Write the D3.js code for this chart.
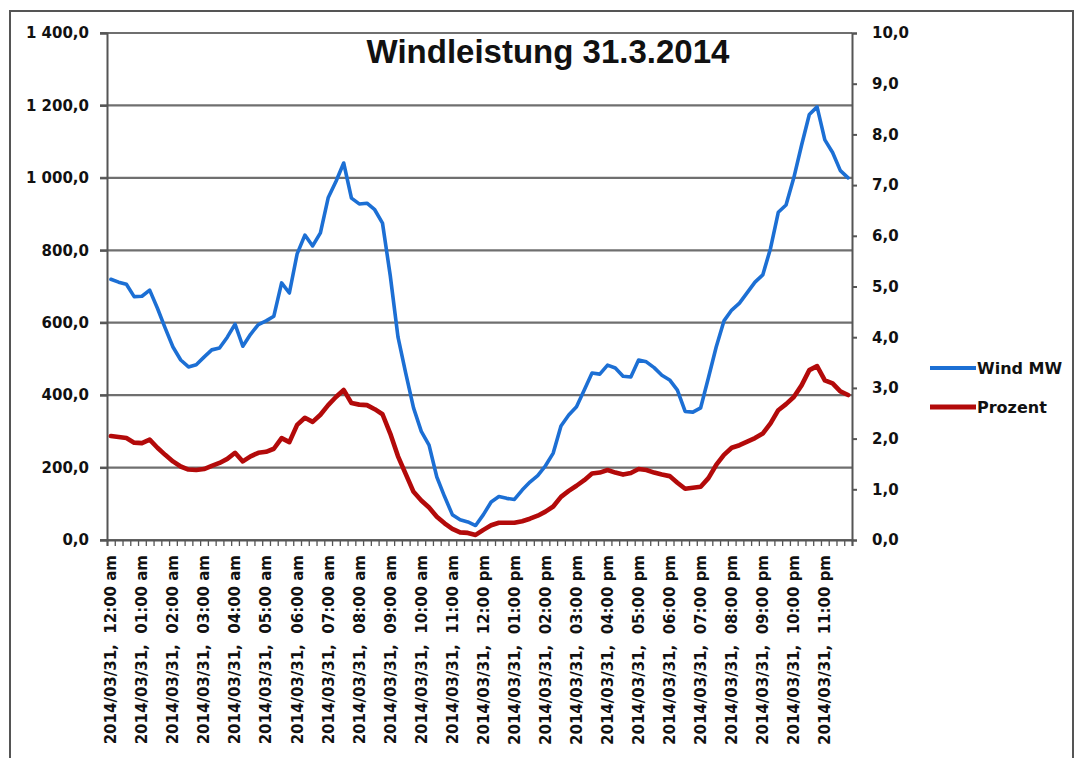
<!DOCTYPE html>
<html>
<head>
<meta charset="utf-8">
<script src="https://cdn.jsdelivr.net/npm/d3@7"></script>
<style>
  html, body { margin: 0; padding: 0; background: #fff; }
  svg { display: block; }
</style>
</head>
<body>
<svg id="chart" width="1079" height="758"></svg>
<script>
// ---- data (15-minute values, 31.3.2014) ----
const hourLabels = [
  "2014/03/31,  12:00 am", "2014/03/31,  01:00 am", "2014/03/31,  02:00 am", "2014/03/31,  03:00 am",
  "2014/03/31,  04:00 am", "2014/03/31,  05:00 am", "2014/03/31,  06:00 am", "2014/03/31,  07:00 am",
  "2014/03/31,  08:00 am", "2014/03/31,  09:00 am", "2014/03/31,  10:00 am", "2014/03/31,  11:00 am",
  "2014/03/31,  12:00 pm", "2014/03/31,  01:00 pm", "2014/03/31,  02:00 pm", "2014/03/31,  03:00 pm",
  "2014/03/31,  04:00 pm", "2014/03/31,  05:00 pm", "2014/03/31,  06:00 pm", "2014/03/31,  07:00 pm",
  "2014/03/31,  08:00 pm", "2014/03/31,  09:00 pm", "2014/03/31,  10:00 pm", "2014/03/31,  11:00 pm"
];
const quarters = ["00", "15", "30", "45"];

const windMW = [
  720, 712, 706, 672, 673, 690, 640, 585, 533, 497, 478, 484, 505, 525, 530, 560,
  596, 535, 568, 595, 605, 618, 710, 682, 790, 842, 812, 848, 945, 990, 1041, 944,
  928, 930, 912, 875, 730, 560, 460, 365, 300, 262, 174, 120, 70, 56, 50, 40,
  70, 105, 120, 115, 112, 138, 160, 178, 205, 240, 315, 345, 368, 414, 461, 458,
  483, 475, 452, 450, 497, 492, 476, 455, 442, 414, 355, 353, 365, 448, 533, 605,
  635, 654, 683, 712, 732, 805, 905, 925, 1000, 1090, 1175, 1196, 1105, 1070, 1020, 1000
];
const prozent = [
  2.05, 2.03, 2.01, 1.92, 1.91, 1.98, 1.82, 1.68, 1.55, 1.45, 1.39, 1.38, 1.40, 1.46, 1.52, 1.60,
  1.72, 1.55, 1.65, 1.72, 1.74, 1.80, 2.01, 1.93, 2.27, 2.41, 2.33, 2.47, 2.66, 2.82, 2.96, 2.70,
  2.67, 2.66, 2.58, 2.48, 2.10, 1.65, 1.30, 0.95, 0.78, 0.64, 0.46, 0.33, 0.22, 0.15, 0.14, 0.10,
  0.20, 0.29, 0.34, 0.34, 0.34, 0.37, 0.42, 0.48, 0.56, 0.66, 0.85, 0.97, 1.07, 1.18, 1.31, 1.33,
  1.38, 1.33, 1.29, 1.32, 1.40, 1.38, 1.33, 1.29, 1.26, 1.13, 1.01, 1.03, 1.05, 1.22, 1.48, 1.68,
  1.82, 1.87, 1.94, 2.01, 2.10, 2.30, 2.56, 2.68, 2.82, 3.05, 3.35, 3.43, 3.15, 3.09, 2.93, 2.86
];
const leftTicks = [0, 200, 400, 600, 800, 1000, 1200, 1400];
const rightTicks = [0, 1, 2, 3, 4, 5, 6, 7, 8, 9, 10];
const seriesNames = ["Wind MW", "Prozent"];
const seriesColors = ["#1c6fd4", "#b30a0a"];
const titleText = "Windleistung 31.3.2014";

// categories: one per quarter hour
const categories = [];
hourLabels.forEach((h, hi) => quarters.forEach(q => categories.push(hi + ":" + q)));

// ---- layout ----
const svg = d3.select("#chart");
const plot = { left: 107, right: 852, top: 33, bottom: 540 };
const fontAxis = "'DejaVu Sans', sans-serif";

const x = d3.scaleBand().domain(categories).range([plot.left, plot.right]).padding(0);
const xb = d3.scaleLinear().domain([0, categories.length]).range([plot.left, plot.right]);
const yL = d3.scaleLinear().domain([0, 1400]).range([plot.bottom, plot.top]);
const yR = d3.scaleLinear().domain([0, 10]).range([plot.bottom, plot.top]);

const loc = d3.formatLocale({ decimal: ",", thousands: " ", grouping: [3], currency: ["", ""] });
const fmtL = loc.format(",.1f");
const fmtR = loc.format(".1f");

// outer frame
svg.append("rect").attr("x", 10).attr("y", 11).attr("width", 1063).attr("height", 770)
  .attr("fill", "none").attr("stroke", "#555").attr("stroke-width", 2);

// gridlines
svg.append("g").selectAll("line").data(leftTicks).join("line")
  .attr("x1", plot.left - 7).attr("x2", plot.right)
  .attr("y1", d => yL(d)).attr("y2", d => yL(d))
  .attr("stroke", "#6f6f6f").attr("stroke-width", 2.2);

// left axis
const gL = svg.append("g").attr("transform", `translate(${plot.left},0)`)
  .call(d3.axisLeft(yL).tickValues(leftTicks).tickSize(7).tickPadding(11).tickFormat(fmtL));
gL.select(".domain").attr("stroke", "#555").attr("stroke-width", 2);
gL.selectAll(".tick line").attr("stroke", "#555").attr("stroke-width", 2);
gL.selectAll("text").attr("font-family", fontAxis).attr("font-weight", "bold")
  .attr("font-size", 15).attr("fill", "#111");

// right axis
const gR = svg.append("g").attr("transform", `translate(${plot.right},0)`)
  .call(d3.axisRight(yR).tickValues(rightTicks).tickSize(5).tickPadding(15).tickFormat(fmtR));
gR.select(".domain").attr("stroke", "#555").attr("stroke-width", 2);
gR.selectAll(".tick line").attr("stroke", "#555").attr("stroke-width", 2);
gR.selectAll("text").attr("font-family", fontAxis).attr("font-weight", "bold")
  .attr("font-size", 15).attr("fill", "#111");

// bottom axis tick marks (between categories)
const gB = svg.append("g").attr("transform", `translate(0,${plot.bottom})`)
  .call(d3.axisBottom(xb).tickValues(d3.range(0, categories.length + 1)).tickSize(6).tickFormat(""));
gB.select(".domain").attr("stroke", "#555").attr("stroke-width", 2);
gB.selectAll(".tick line").attr("stroke", "#555").attr("stroke-width", 1.3);

// bottom axis labels (one per hour)
const labelCats = categories.filter((c, i) => i % 4 === 0);
const gX = svg.append("g").attr("transform", `translate(0,${plot.bottom})`)
  .call(d3.axisBottom(x).tickValues(labelCats).tickSize(0).tickFormat((d, i) => hourLabels[i]));
gX.select(".domain").remove();
gX.selectAll(".tick text")
  .attr("transform", "rotate(-90)")
  .attr("x", -15).attr("y", 0).attr("dy", "0.36em")
  .attr("text-anchor", "end")
  .attr("font-family", fontAxis).attr("font-weight", "bold").attr("font-size", 15)
  .attr("fill", "#111")
  .style("white-space", "pre");

// lines
const lineL = d3.line().x((d, i) => x(categories[i]) + x.bandwidth() / 2).y(d => yL(d));
const lineR = d3.line().x((d, i) => x(categories[i]) + x.bandwidth() / 2).y(d => yR(d));
svg.append("path").datum(windMW).attr("d", lineL)
  .attr("fill", "none").attr("stroke", seriesColors[0]).attr("stroke-width", 3.6)
  .attr("stroke-linejoin", "round").attr("stroke-linecap", "round");
svg.append("path").datum(prozent).attr("d", lineR)
  .attr("fill", "none").attr("stroke", seriesColors[1]).attr("stroke-width", 4.6)
  .attr("stroke-linejoin", "round").attr("stroke-linecap", "round");

// title
svg.append("text").attr("x", 548).attr("y", 63).attr("text-anchor", "middle")
  .attr("font-family", "'Liberation Sans', Arial, sans-serif").attr("font-weight", "bold")
  .attr("font-size", 33).attr("fill", "#111").text(titleText);

// legend
const lg = svg.append("g");
seriesNames.forEach((name, i) => {
  const yy = 368 + i * 39;
  lg.append("line").attr("x1", 930).attr("x2", 976).attr("y1", yy).attr("y2", yy)
    .attr("stroke", seriesColors[i]).attr("stroke-width", i === 0 ? 4 : 5);
  lg.append("text").attr("x", 977).attr("y", yy).attr("dy", "0.36em")
    .attr("font-family", fontAxis).attr("font-weight", "bold").attr("font-size", 16)
    .attr("fill", "#111").text(name);
});
</script>
</body>
</html>
